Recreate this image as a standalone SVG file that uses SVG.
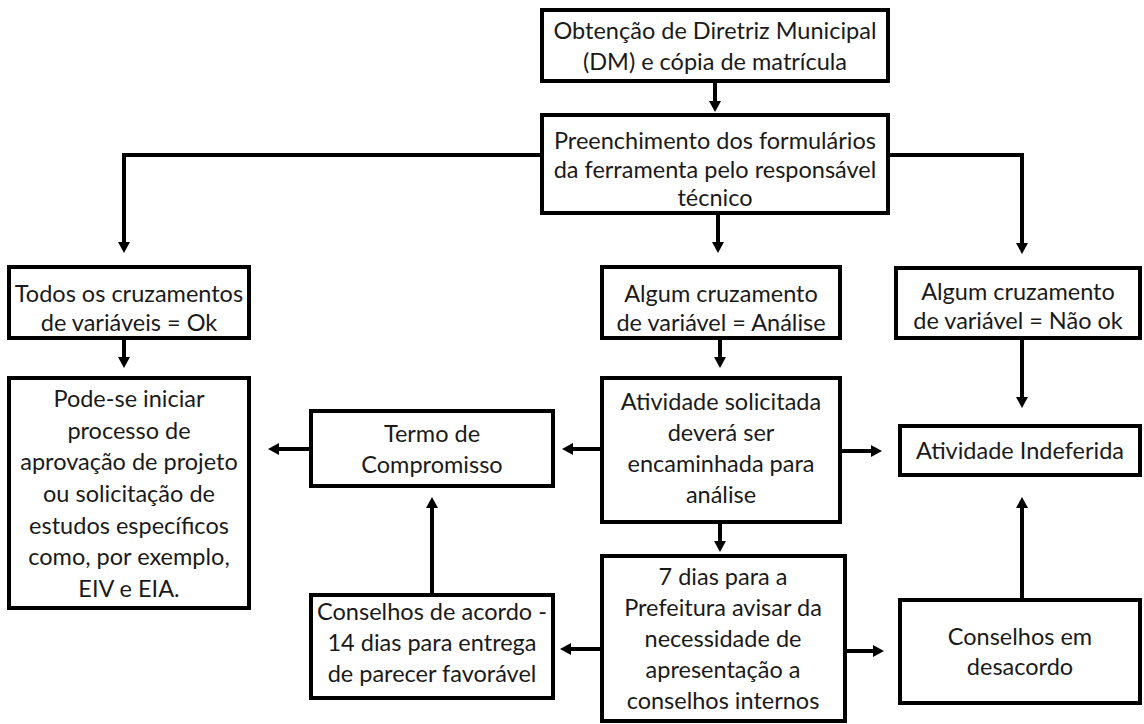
<svg xmlns="http://www.w3.org/2000/svg" width="1144" height="724" viewBox="0 0 1144 724">
<style>
.box{fill:#fff;stroke:#000;stroke-width:4}
.t{font-family:Lato,"Open Sans","Liberation Sans",sans-serif;font-size:23.5px;fill:#1a1a1a;text-anchor:middle}
.c{fill:none;stroke:#000;stroke-width:4}
</style>
<defs>
<marker id="ah" markerUnits="userSpaceOnUse" markerWidth="12" markerHeight="12" refX="6" refY="6" orient="auto">
<path d="M0,0 L11,6 L0,12 z" fill="#000"/>
</marker>
</defs>
<rect width="1144" height="724" fill="#fff"/>
<g id="connectors">
<path class="c" marker-end="url(#ah)" d="M715,81 V107"/>
<path class="c" marker-end="url(#ah)" d="M542,155 H124 V248"/>
<path class="c" marker-end="url(#ah)" d="M888,155 H1022 V249"/>
<path class="c" marker-end="url(#ah)" d="M718,213 V248"/>
<path class="c" marker-end="url(#ah)" d="M124,338 V363"/>
<path class="c" marker-end="url(#ah)" d="M720,338 V363"/>
<path class="c" marker-end="url(#ah)" d="M1022,338 V403"/>
<path class="c" marker-end="url(#ah)" d="M311,449 H273"/>
<path class="c" marker-end="url(#ah)" d="M602,449 H567"/>
<path class="c" marker-end="url(#ah)" d="M840,451 H877"/>
<path class="c" marker-end="url(#ah)" d="M720,522 V547"/>
<path class="c" marker-end="url(#ah)" d="M432,595 V502"/>
<path class="c" marker-end="url(#ah)" d="M602,649 H565"/>
<path class="c" marker-end="url(#ah)" d="M845,651 H879"/>
<path class="c" marker-end="url(#ah)" d="M1022,600 V502"/>
</g>
<g id="n1">
<rect class="box" x="542" y="10" width="346" height="71"/>
<text class="t" x="715" y="39">Obtenção de Diretriz Municipal</text>
<text class="t" x="715" y="70">(DM) e cópia de matrícula</text>
</g>
<g id="n2">
<rect class="box" x="542" y="115" width="346" height="98"/>
<text class="t" x="715" y="149">Preenchimento dos formulários</text>
<text class="t" x="715" y="178">da ferramenta pelo responsável</text>
<text class="t" x="715" y="206">técnico</text>
</g>
<g id="n3">
<rect class="box" x="9" y="267" width="240" height="71"/>
<text class="t" x="129" y="302">Todos os cruzamentos</text>
<text class="t" x="129" y="331">de variáveis = Ok</text>
</g>
<g id="n4">
<rect class="box" x="602" y="267" width="238" height="71"/>
<text class="t" x="721" y="302">Algum cruzamento</text>
<text class="t" x="721" y="331">de variável = Análise</text>
</g>
<g id="n5">
<rect class="box" x="896" y="268" width="244" height="70"/>
<text class="t" x="1018" y="300">Algum cruzamento</text>
<text class="t" x="1018" y="329">de variável = Não ok</text>
</g>
<g id="n6">
<rect class="box" x="9" y="378" width="240" height="230"/>
<text class="t" x="129" y="407">Pode-se iniciar</text>
<text class="t" x="129" y="439">processo de</text>
<text class="t" x="129" y="470">aprovação de projeto</text>
<text class="t" x="129" y="502">ou solicitação de</text>
<text class="t" x="129" y="534">estudos específicos</text>
<text class="t" x="129" y="565">como, por exemplo,</text>
<text class="t" x="129" y="597">EIV e EIA.</text>
</g>
<g id="n7">
<rect class="box" x="311" y="411" width="242" height="75"/>
<text class="t" x="432" y="442">Termo de</text>
<text class="t" x="432" y="473">Compromisso</text>
</g>
<g id="n8">
<rect class="box" x="602" y="378" width="238" height="144"/>
<text class="t" x="721" y="410">Atividade solicitada</text>
<text class="t" x="721" y="441">deverá ser</text>
<text class="t" x="721" y="472">encaminhada para</text>
<text class="t" x="721" y="503">análise</text>
</g>
<g id="n9">
<rect class="box" x="900" y="426" width="240" height="49"/>
<text class="t" x="1020" y="459">Atividade Indeferida</text>
</g>
<g id="n10">
<rect class="box" x="311" y="595" width="242" height="103"/>
<text class="t" x="432" y="620" textLength="230" lengthAdjust="spacingAndGlyphs">Conselhos de acordo -</text>
<text class="t" x="432" y="651">14 dias para entrega</text>
<text class="t" x="432" y="682">de parecer favorável</text>
</g>
<g id="n11">
<rect class="box" x="602" y="556" width="243" height="165"/>
<text class="t" x="723" y="585">7 dias para a</text>
<text class="t" x="723" y="616">Prefeitura avisar da</text>
<text class="t" x="723" y="647">necessidade de</text>
<text class="t" x="723" y="678">apresentação a</text>
<text class="t" x="723" y="709">conselhos internos</text>
</g>
<g id="n12">
<rect class="box" x="900" y="600" width="240" height="103"/>
<text class="t" x="1020" y="645">Conselhos em</text>
<text class="t" x="1020" y="675">desacordo</text>
</g>
</svg>
